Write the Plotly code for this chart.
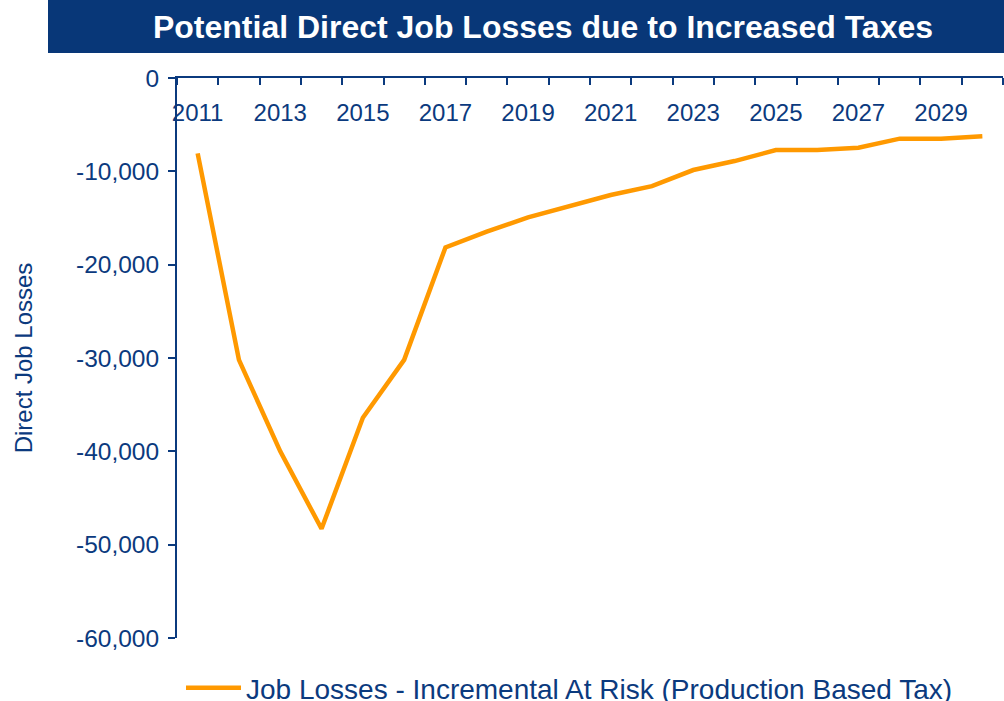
import plotly.graph_objects as go

# ---- data ----
years = list(range(2011, 2031))
job_losses = [-8070, -30200, -40000, -48300, -36400, -30200, -18150, -16470,
              -14930, -13720, -12540, -11580, -9860, -8900, -7720, -7720,
              -7470, -6500, -6500, -6250]
series_name = "Job Losses - Incremental At Risk (Production Based Tax)"
title_text = "Potential Direct Job Losses due to Increased Taxes"
y_title = "Direct Job Losses"
x_tick_vals = list(range(2011, 2030, 2))
x_tick_text = [str(v) for v in x_tick_vals]
y_tick_vals = [0, -10000, -20000, -30000, -40000, -50000, -60000]
y_tick_text = ["0", "-10,000", "-20,000", "-30,000", "-40,000", "-50,000", "-60,000"]

# ---- style ----
W, H = 1004, 701
NAVY = "#0b3a7e"
BANNER = "#083778"
ORANGE = "#ff9900"
FONT = "Liberation Sans, Arial, sans-serif"
ml, mr, mt, mb = 177, 1, 78, 63
pw = W - ml - mr
ph = H - mt - mb
x_range = [2010.5, 2030.5]

fig = go.Figure()
fig.add_trace(go.Scatter(
    x=years, y=job_losses, mode="lines", name=series_name,
    line=dict(color=ORANGE, width=4.5), showlegend=True,
    xaxis="x", yaxis="y",
))

fig.update_layout(
    width=W, height=H,
    margin=dict(l=ml, r=mr, t=mt, b=mb, autoexpand=False),
    paper_bgcolor="white", plot_bgcolor="white",
    font=dict(family=FONT, color=NAVY, size=24),
    title=dict(text="<b>" + title_text + "</b>", x=543 / W, xref="container",
               xanchor="center", y=1 - 27 / H, yref="container", yanchor="middle",
               font=dict(family=FONT, size=32, color="white")),
    showlegend=True,
    legend=dict(orientation="h", x=181 / W, xref="container", xanchor="left",
                y=1 - 688 / H, yref="container", yanchor="middle",
                font=dict(family=FONT, size=28, color=NAVY),
                bgcolor="rgba(0,0,0,0)", itemwidth=55),
    shapes=[dict(type="rect", xref="paper", yref="paper",
                 x0=(48 - ml) / pw, x1=(W - ml) / pw + 0.01,
                 y0=1 + (mt - 53) / ph, y1=1 + mt / ph + 0.01,
                 fillcolor=BANNER, line=dict(width=0), layer="below")],
    xaxis=dict(
        range=x_range, side="top", showticklabels=False, ticks="",
        showline=True, linecolor=NAVY, linewidth=2,
        showgrid=False, zeroline=False, automargin=False,
        minor=dict(tickmode="linear", tick0=2010.5, dtick=1, ticks="inside",
                   ticklen=7, tickwidth=2, tickcolor=NAVY, showgrid=False),
    ),
    xaxis2=dict(
        range=x_range, overlaying="x", matches="x", anchor="free",
        position=1 - (96 - mt) / ph, side="bottom",
        tickmode="array", tickvals=x_tick_vals, ticktext=x_tick_text,
        ticks="", showline=False, showgrid=False, zeroline=False, automargin=False,
        tickfont=dict(family=FONT, size=24, color=NAVY),
    ),
    yaxis=dict(
        range=[-60000, 0],
        tickmode="array", tickvals=y_tick_vals, ticktext=y_tick_text,
        ticks="outside", ticklen=7, tickwidth=2, tickcolor=NAVY,
        ticklabelstandoff=4,
        showline=True, linecolor=NAVY, linewidth=2,
        showgrid=False, zeroline=False, automargin=False,
        tickfont=dict(family=FONT, size=24.5, color=NAVY),
        title=dict(text=y_title, font=dict(family=FONT, size=24, color=NAVY), standoff=37),
    ),
)
# invisible companion trace so the label axis is drawn
fig.add_trace(go.Scatter(x=years, y=job_losses, mode="lines", xaxis="x2", yaxis="y",
                         line=dict(width=0, color="rgba(0,0,0,0)"), showlegend=False,
                         hoverinfo="skip"))

fig.write_html("out.html", config={"displayModeBar": False},
               post_script="document.body.style.margin='0';")
